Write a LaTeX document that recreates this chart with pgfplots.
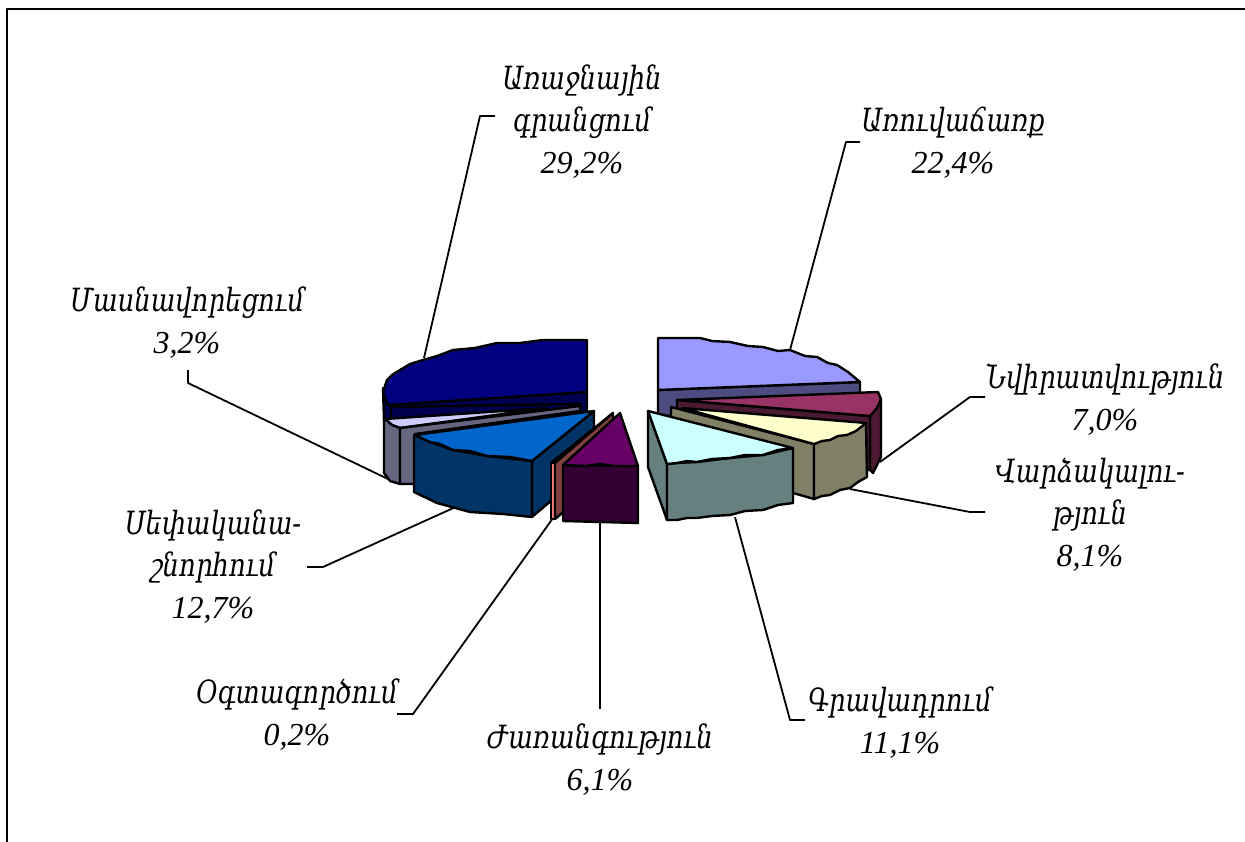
\documentclass[border=0pt]{standalone}
\usepackage{fontspec}
\usepackage{pgfplots}
\pgfplotsset{compat=1.18}
\setmainfont{Liberation Serif}
\newfontfamily\armf[FakeStretch=0.81]{DejaVu Serif}
\newcommand{\arm}[1]{{\armf\itshape #1}}
\definecolor{navytop}{HTML}{000080}
\definecolor{navyside}{HTML}{000050}
\definecolor{lav}{HTML}{CCCCFF}
\definecolor{lavside}{HTML}{666680}
\definecolor{bluetop}{HTML}{0066CC}
\definecolor{blueside}{HTML}{003366}
\definecolor{salmon}{HTML}{FF8080}
\definecolor{salmonside}{HTML}{804040}
\definecolor{purptop}{HTML}{660066}
\definecolor{purpside}{HTML}{330033}
\definecolor{viotop}{HTML}{9999FF}
\definecolor{vioside}{HTML}{4C4C80}
\definecolor{martop}{HTML}{993366}
\definecolor{marside}{HTML}{4C1933}
\definecolor{yeltop}{HTML}{FFFFCC}
\definecolor{yelside}{HTML}{808066}
\definecolor{cyantop}{HTML}{CCFFFF}
\definecolor{cyanside}{HTML}{668080}
\begin{document}
\begin{tikzpicture}[x=1bp,y=1bp]
\useasboundingbox (0,0) rectangle (622.5bp,421bp);
\begin{axis}[at={(0,0)},anchor=south west,width=622.5bp,height=421bp,scale only axis,hide axis,
  xmin=0,xmax=1245,ymin=0,ymax=842,y dir=reverse,clip=true,
  every axis plot/.append style={line join=round}]
\pgfplotsset{
 piece/.style={draw=black,line width=1.2bp,fill=#1},
 lead/.style={draw=black,line width=0.9bp,no marks}}
% frame
\addplot[draw=black,line width=1.4bp] coordinates {(7,842)(7,9)(1245,9)};
% leaders
\addplot[lead] coordinates {(495,116)(480,116)(424,358)};
\addplot[lead] coordinates {(860,142)(846,142)(790,350)};
\addplot[lead] coordinates {(985,397)(970,397)(880,462)};
\addplot[lead] coordinates {(985,512)(970,512)(850,489)};
\addplot[lead] coordinates {(805,720)(790,720)(735,517)};
\addplot[lead] coordinates {(600,709)(600,520)};
\addplot[lead] coordinates {(397,714)(413,714)(553,518)};
\addplot[lead] coordinates {(307,567)(323,567)(460,505)};
\addplot[lead] coordinates {(188,370)(188,383)(388,479)};
% navy slice
\addplot[piece=navyside] coordinates {(383,388)(388,405)(587,392)(587,412)(384,420)} -- cycle;
\addplot[piece=navytop] coordinates {(587,340)(560,340)(543,340)(520,343)(497,343)(475,348)(453,350)(437,356)(423,360)(410,364)(400,370)(392,375)(387,380)(383,392)(388,405)(587,392)} -- cycle;
% lavender slice
\addplot[piece=navyside] coordinates {(391,407)(581,404)(581,412)(391,420)} -- cycle;
\addplot[piece=lav] coordinates {(385,419)(547,408)(400,428)(392,425)} -- cycle;
\addplot[piece=lavside] coordinates {(384,418)(392,425)(400,428)(400,484)(390,481)(384,473)} -- cycle;
\addplot[piece=lavside] coordinates {(400,428)(580,406)(580,411)(415,434)(415,484)(400,484)} -- cycle;
% blue slice
\addplot[piece=blueside] coordinates {(532,461)(594,411)(594,464)(532,517)} -- cycle;
\addplot[piece=blueside] coordinates {(414,435)(430,442)(453,450)(487,456)(532,461)(532,517)(503,514)(470,512)(437,503)(414,492)} -- cycle;
\addplot[piece=bluetop] coordinates {(415,435)(594,411)(532,461)(510,457)(487,456)(470,451)(453,450)(440,444)(430,442)} -- cycle;
% salmon slice
\addplot[piece=salmon] coordinates {(551,463)(613,413)(555,463)} -- cycle;
\addplot[piece=salmon] coordinates {(551,463)(555,463)(555,519)(551,519)} -- cycle;
\addplot[piece=salmonside] coordinates {(555,463)(613,413)(613,470)(555,519)} -- cycle;
% purple slice
\addplot[piece=purpside] coordinates {(563,465)(638,466)(638,523)(563,521)} -- cycle;
\addplot[piece=purptop] coordinates {(620,413)(638,466)(615,466)(600,464)(585,466)(563,465)} -- cycle;
% violet slice
\addplot[piece=vioside] coordinates {(658,390)(860,382)(860,412)(658,416)} -- cycle;
\addplot[piece=viotop] coordinates {(658,338)(700,338)(712,341)(730,342)(748,346)(763,347)(778,351)(790,350)(805,356)(817,357)(828,363)(837,365)(848,372)(860,382)(658,390)} -- cycle;
% maroon slice
\addplot[piece=marside] coordinates {(870,416)(881,399)(881,457)(873,473)(870,470)} -- cycle;
\addplot[piece=marside] coordinates {(677,400)(870,416)(870,470)(677,460)} -- cycle;
\addplot[piece=martop] coordinates {(677,400)(878,392)(881,399)(877,408)(870,416)} -- cycle;
% khaki slice
\addplot[piece=yelside] coordinates {(671,407)(814,444)(814,499)(793,493)(671,450)} -- cycle;
\addplot[piece=yelside] coordinates {(814,444)(866,423)(867,477)(858,482)(850,488)(840,490)(830,495)(822,496)(814,499)} -- cycle;
\addplot[piece=yeltop] coordinates {(682,408)(866,423)(856,431)(847,435)(838,436)(830,440)(822,441)(814,444)} -- cycle;
% cyan slice
\addplot[piece=cyanside] coordinates {(648,411)(667,464)(667,520)(648,467)} -- cycle;
\addplot[piece=cyanside] coordinates {(667,464)(677,463)(697,462)(730,458)(763,455)(793,448)(793,503)(778,505)(763,510)(745,511)(730,515)(712,516)(697,518)(687,518)(677,520)(667,520)} -- cycle;
\addplot[piece=cyantop] coordinates {(648,411)(793,448)(778,450)(763,455)(745,455)(730,458)(712,459)(697,462)(687,461)(677,463)(667,464)} -- cycle;
% labels
\tikzset{lab/.style={align=center,font=\fontsize{16bp}{21bp}\selectfont\itshape,inner sep=0pt}}
\node[lab] at (axis cs:582,122) {\arm{Առաջնային}\\\arm{գրանցում}\\29,2\%};
\node[lab] at (axis cs:953,143) {\arm{Առուվաճառք}\\22,4\%};
\node[lab] at (axis cs:1105,400) {\arm{Նվիրատվություն}\\7,0\%};
\node[lab] at (axis cs:1090,515) {\arm{Վարձակալու-}\\\arm{թյուն}\\8,1\%};
\node[lab] at (axis cs:900,723) {\arm{Գրավադրում}\\11,1\%};
\node[lab] at (axis cs:600,760) {\arm{Ժառանգություն}\\6,1\%};
\node[lab] at (axis cs:297,715) {\arm{Օգտագործում}\\0,2\%};
\node[lab] at (axis cs:213,567) {\arm{Սեփականա-}\\\arm{շնորհում}\\12,7\%};
\node[lab] at (axis cs:187,323) {\arm{Մասնավորեցում}\\3,2\%};
\end{axis}
\end{tikzpicture}
\end{document}
